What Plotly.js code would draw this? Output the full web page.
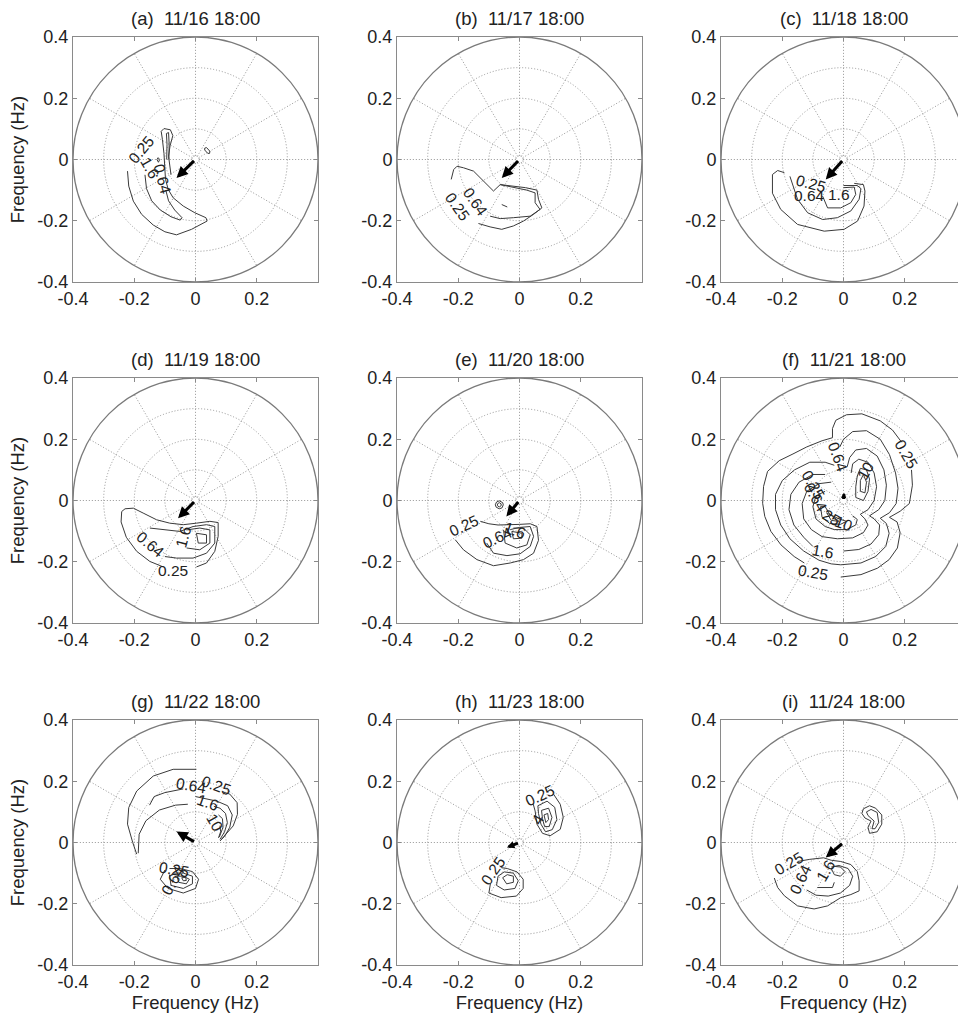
<!DOCTYPE html>
<html><head><meta charset="utf-8">
<script src="https://cdn.plot.ly/plotly-3.0.1.min.js"></script>
<style>html,body{margin:0;padding:0;overflow:hidden;background:#fff}</style>
</head><body><div id="chart"></div>
<script>
// ---------- data ----------
const panelTitles = ["(a)\u00a0 11/16 18:00","(b)\u00a0 11/17 18:00","(c)\u00a0 11/18 18:00",
                     "(d)\u00a0 11/19 18:00","(e)\u00a0 11/20 18:00","(f)\u00a0 11/21 18:00",
                     "(g)\u00a0 11/22 18:00","(h)\u00a0 11/23 18:00","(i)\u00a0 11/24 18:00"];
const xTickVals = [-0.4,-0.2,0,0.2];
const xTickText = ["-0.4","-0.2","0","0.2"];
const yTickVals = [-0.4,-0.2,0,0.2,0.4];
const yTickText = ["-0.4","-0.2","0","0.2","0.4"];
const gridRadii = [0.012,0.1,0.2,0.3];
const outerRadius = 0.4;
const spokeAngles = [0,30,60,90,120,150,180,210,240,270,300,330];
// arrow tips (Hz), tail at the origin
const arrowTipX = [-0.062,-0.058,-0.058,-0.057,-0.043,0.002,-0.062,-0.041,-0.058];
const arrowTipY = [-0.060,-0.060,-0.065,-0.058,-0.052,0.025,0.036,-0.016,-0.049];

// contour lines: [level, [[fx,fy],...]]
const contourA = [
 [0.25,[[-0.222,-0.038],[-0.218,-0.087],[-0.203,-0.136],[-0.176,-0.179],[-0.138,-0.214],[-0.100,-0.236],[-0.062,-0.246],[-0.013,-0.228],[0.038,-0.201],[0.034,-0.190],[-0.002,-0.174],[-0.040,-0.152],[-0.073,-0.125],[-0.089,-0.098],[-0.098,-0.065],[-0.100,-0.030],[-0.103,0.020],[-0.108,0.065],[-0.112,0.092],[-0.103,0.101],[-0.082,0.097],[-0.074,0.078],[-0.083,0.045],[-0.088,0.011],[-0.085,-0.020],[-0.080,-0.050]]],
 [0.64,[[-0.165,-0.050],[-0.160,-0.095],[-0.143,-0.135],[-0.115,-0.165],[-0.080,-0.187],[-0.050,-0.198],[-0.044,-0.190],[-0.068,-0.165],[-0.088,-0.135],[-0.097,-0.100]]],
 [0.64,[[-0.094,0.000],[-0.093,0.050],[-0.095,0.085],[-0.088,0.088],[-0.086,0.050],[-0.087,0.000]]],
 [1.6,[[-0.122,0.006],[-0.117,0.000],[-0.121,-0.009],[-0.126,0.000],[-0.122,0.006]]],
 [0.25,[[0.030,0.037],[0.036,0.039],[0.047,0.027],[0.046,0.020],[0.040,0.020],[0.030,0.031],[0.030,0.037]]]
];
const contourB = [
 [0.25,[[-0.223,-0.065],[-0.215,-0.033],[-0.204,-0.022],[-0.183,-0.027],[-0.150,-0.038],[-0.117,-0.071],[-0.085,-0.103],[-0.063,-0.082],[-0.020,-0.088],[0.020,-0.092],[0.057,-0.100],[0.062,-0.130],[0.073,-0.158],[0.046,-0.179],[0.013,-0.201],[-0.020,-0.217],[-0.058,-0.228],[-0.096,-0.220],[-0.134,-0.209]]],
 [0.64,[[-0.063,-0.082],[-0.020,-0.092],[0.024,-0.100],[0.051,-0.109],[0.051,-0.141],[0.067,-0.163],[0.035,-0.185],[-0.020,-0.190],[-0.063,-0.193],[-0.096,-0.185]]],
 [1.6,[[-0.058,-0.147],[-0.040,-0.155]]]
];
const contourC = [
 [0.25,[[-0.193,-0.043],[-0.215,-0.036],[-0.232,-0.049],[-0.232,-0.110],[-0.205,-0.163],[-0.150,-0.212],[-0.063,-0.234],[0.002,-0.228],[0.046,-0.201],[0.067,-0.152],[0.070,-0.103],[0.065,-0.082],[0.035,-0.078]]],
 [0.64,[[-0.175,-0.055],[-0.165,-0.087],[-0.150,-0.130],[-0.117,-0.174],[-0.068,-0.196],[-0.020,-0.190],[0.024,-0.168],[0.051,-0.130],[0.057,-0.095],[0.045,-0.085],[0.000,-0.085]]],
 [1.6,[[-0.068,-0.120],[-0.052,-0.158],[-0.009,-0.158],[0.024,-0.141],[0.040,-0.114],[0.035,-0.090],[0.000,-0.092]]]
];
const contourD = [
 [0.25,[[-0.105,-0.217],[-0.149,-0.199],[-0.192,-0.166],[-0.226,-0.120],[-0.243,-0.070],[-0.241,-0.036],[-0.230,-0.027],[-0.203,-0.025],[-0.171,-0.041],[-0.127,-0.063],[-0.084,-0.074],[-0.040,-0.079],[0.003,-0.074],[0.047,-0.068],[0.074,-0.072],[0.074,-0.117],[0.063,-0.166],[0.036,-0.204],[0.003,-0.217]]],
 [0.64,[[-0.149,-0.090],[-0.095,-0.096],[-0.051,-0.101],[-0.008,-0.085],[0.036,-0.079],[0.063,-0.085],[0.063,-0.139],[0.036,-0.172],[-0.008,-0.188],[-0.062,-0.188],[-0.100,-0.183]]],
 [1.6,[[-0.029,-0.096],[0.014,-0.090],[0.047,-0.096],[0.047,-0.139],[0.014,-0.161],[-0.029,-0.155]]],
 [4,[[0.003,-0.107],[0.036,-0.112],[0.036,-0.139],[0.009,-0.139],[0.003,-0.107]]]
];
const contourE = [
 [0.25,[[-0.128,-0.068],[-0.100,-0.076],[-0.070,-0.080],[-0.035,-0.080],[0.000,-0.078],[0.035,-0.076],[0.057,-0.085],[0.062,-0.130],[0.046,-0.172],[0.013,-0.193],[-0.030,-0.204],[-0.085,-0.213],[-0.139,-0.193],[-0.183,-0.161],[-0.210,-0.128]]],
 [0.64,[[-0.107,-0.139],[-0.085,-0.172],[-0.041,-0.180],[0.002,-0.174],[0.035,-0.150],[0.046,-0.117],[0.035,-0.085],[0.000,-0.088],[-0.030,-0.095]]],
 [1.6,[[-0.052,-0.096],[-0.047,-0.139],[-0.009,-0.155],[0.024,-0.145],[0.035,-0.112],[0.013,-0.090],[-0.020,-0.090]]],
 [4,[[-0.025,-0.101],[0.008,-0.107],[0.008,-0.123],[-0.020,-0.125],[-0.025,-0.101]]],
 [0.25,[[-0.066,-0.001],[-0.055,-0.007],[-0.053,-0.014],[-0.057,-0.024],[-0.066,-0.027],[-0.076,-0.022],[-0.079,-0.014],[-0.075,-0.005],[-0.066,-0.001]]],
 [0.64,[[-0.066,-0.007],[-0.060,-0.011],[-0.060,-0.017],[-0.066,-0.021],[-0.072,-0.017],[-0.072,-0.011],[-0.066,-0.007]]]
];
const contourF = [
 [0.25,[[-0.009,-0.250],[0.057,-0.242],[0.111,-0.221],[0.149,-0.193],[0.176,-0.155],[0.185,-0.105],[0.175,-0.070],[0.150,-0.055],[0.185,-0.035],[0.215,-0.010],[0.225,0.050],[0.222,0.100]]],
 [0.25,[[0.190,0.190],[0.160,0.230],[0.120,0.260],[0.060,0.283],[0.010,0.280],[-0.025,0.262],[-0.036,0.235],[-0.036,0.205],[-0.070,0.195],[-0.120,0.175],[-0.165,0.152],[-0.210,0.130],[-0.248,0.095],[-0.261,0.046],[-0.264,-0.009],[-0.257,-0.052],[-0.237,-0.101],[-0.204,-0.145],[-0.161,-0.183],[-0.128,-0.204]]],
 [0.64,[[-0.009,-0.210],[0.057,-0.204],[0.105,-0.183],[0.138,-0.150],[0.149,-0.107],[0.140,-0.075],[0.120,-0.058],[0.150,-0.040],[0.172,-0.010],[0.178,0.040],[0.170,0.090],[0.150,0.150],[0.120,0.200],[0.075,0.228],[0.030,0.225],[0.000,0.200],[-0.012,0.175]]],
 [0.64,[[-0.030,0.115],[-0.060,0.125],[-0.110,0.125],[-0.160,0.100],[-0.200,0.065],[-0.222,0.020],[-0.222,-0.030],[-0.205,-0.080],[-0.175,-0.125],[-0.130,-0.165],[-0.080,-0.195],[-0.040,-0.207],[-0.009,-0.210]]],
 [1.6,[[0.000,-0.165],[0.050,-0.160],[0.090,-0.142],[0.115,-0.112],[0.118,-0.080],[0.100,-0.060],[0.085,-0.050],[0.115,-0.030],[0.135,0.000],[0.140,0.050],[0.132,0.100],[0.110,0.145],[0.075,0.170],[0.040,0.165],[0.020,0.140],[0.012,0.110]]],
 [1.6,[[-0.060,0.085],[-0.100,0.085],[-0.145,0.060],[-0.172,0.020],[-0.178,-0.030],[-0.162,-0.080],[-0.130,-0.120],[-0.100,-0.150]]],
 [4,[[-0.020,-0.125],[0.030,-0.122],[0.065,-0.105],[0.080,-0.080],[0.070,-0.060],[0.055,-0.045],[0.080,-0.030],[0.100,0.000],[0.108,0.045],[0.100,0.090],[0.080,0.125],[0.050,0.135],[0.030,0.120],[0.025,0.090]]],
 [4,[[-0.040,0.060],[-0.080,0.055],[-0.120,0.030],[-0.135,-0.010],[-0.130,-0.060],[-0.105,-0.095],[-0.070,-0.118],[-0.020,-0.125]]],
 [10,[[-0.060,0.030],[-0.090,0.015],[-0.100,-0.020],[-0.090,-0.060],[-0.060,-0.085],[-0.030,-0.095],[0.010,-0.095],[0.040,-0.080],[0.045,-0.062],[0.030,-0.050]]],
 [10,[[0.040,0.010],[0.065,0.000],[0.080,0.030],[0.085,0.070],[0.075,0.100],[0.055,0.105],[0.045,0.080],[0.040,0.045],[0.040,0.010]]],
 [25,[[-0.075,-0.020],[-0.070,-0.055],[-0.045,-0.075],[-0.010,-0.078],[0.010,-0.068],[-0.015,-0.060],[-0.045,-0.045],[-0.060,-0.020],[-0.075,-0.020]]],
 [25,[[0.055,0.030],[0.070,0.025],[0.075,0.060],[0.065,0.085],[0.055,0.065],[0.055,0.030]]],
 [64,[[-0.055,-0.040],[-0.040,-0.065],[-0.015,-0.068],[-0.030,-0.055],[-0.055,-0.040]]]
];
const contourG = [
 [0.25,[[-0.192,-0.038],[-0.205,0.000],[-0.222,0.060],[-0.218,0.114],[-0.192,0.168],[-0.138,0.217],[-0.073,0.239],[0.003,0.239]]],
 [0.25,[[-0.187,-0.035],[-0.184,0.027],[-0.162,0.071],[-0.118,0.106],[-0.065,0.122],[-0.025,0.125]]],
 [0.64,[[-0.150,0.122],[-0.135,0.150],[-0.100,0.163],[-0.060,0.170],[-0.040,0.175]]],
 [0.25,[[0.090,0.165],[0.112,0.158],[0.136,0.130],[0.137,0.092],[0.123,0.054],[0.101,0.027],[0.085,0.011]]],
 [0.64,[[0.000,0.150],[0.040,0.140],[0.070,0.135],[0.105,0.120],[0.120,0.090],[0.112,0.050],[0.095,0.020],[0.080,0.005]]],
 [1.6,[[0.060,0.118],[0.080,0.112],[0.098,0.095],[0.104,0.065],[0.095,0.035],[0.080,0.010]]],
 [4,[[0.075,0.090],[0.088,0.078],[0.090,0.050],[0.078,0.018]]],
 [10,[[0.080,0.055],[0.082,0.035],[0.075,0.015]]],
 [0.25,[[-0.100,-0.090],[-0.115,-0.120],[-0.090,-0.150],[-0.040,-0.165],[0.000,-0.150],[0.010,-0.120],[-0.010,-0.095],[-0.050,-0.085],[-0.085,-0.085]]],
 [0.64,[[-0.085,-0.105],[-0.080,-0.140],[-0.040,-0.150],[-0.010,-0.135],[-0.010,-0.110],[-0.040,-0.100],[-0.070,-0.100]]],
 [1.6,[[-0.060,-0.110],[-0.055,-0.130],[-0.030,-0.135],[-0.020,-0.120],[-0.040,-0.110],[-0.060,-0.110]]],
 [4,[[-0.045,-0.115],[-0.040,-0.125],[-0.030,-0.124],[-0.032,-0.114],[-0.045,-0.115]]]
];
const contourH = [
 [0.25,[[0.111,0.158],[0.133,0.125],[0.143,0.082],[0.133,0.043],[0.100,0.022],[0.075,0.030],[0.057,0.060],[0.051,0.103],[0.045,0.125]]],
 [0.64,[[0.060,0.120],[0.090,0.135],[0.115,0.115],[0.122,0.075],[0.107,0.042],[0.085,0.035],[0.070,0.060],[0.062,0.095],[0.060,0.120]]],
 [1.6,[[0.072,0.105],[0.095,0.112],[0.106,0.082],[0.097,0.052],[0.082,0.052],[0.075,0.078],[0.072,0.105]]],
 [4,[[0.080,0.090],[0.092,0.095],[0.095,0.075],[0.086,0.065],[0.080,0.090]]],
 [0.25,[[-0.095,-0.135],[-0.100,-0.165],[-0.060,-0.180],[-0.010,-0.175],[0.012,-0.150],[0.012,-0.120],[-0.008,-0.096],[-0.040,-0.085],[-0.060,-0.082]]],
 [0.64,[[-0.070,-0.110],[-0.075,-0.140],[-0.050,-0.155],[-0.015,-0.150],[-0.004,-0.125],[-0.020,-0.100],[-0.050,-0.096],[-0.070,-0.110]]],
 [1.6,[[-0.055,-0.115],[-0.042,-0.135],[-0.020,-0.130],[-0.020,-0.110],[-0.040,-0.105],[-0.055,-0.115]]]
];
const contourI = [
 [0.25,[[0.065,0.110],[0.085,0.120],[0.105,0.112],[0.125,0.090],[0.125,0.060],[0.110,0.035],[0.085,0.030],[0.080,0.050],[0.090,0.070],[0.070,0.080],[0.060,0.095],[0.065,0.110]]],
 [0.64,[[0.075,0.100],[0.090,0.108],[0.110,0.098],[0.115,0.065],[0.103,0.045],[0.093,0.045],[0.100,0.070],[0.080,0.088],[0.075,0.100]]],
 [0.25,[[-0.150,-0.062],[-0.110,-0.055],[-0.065,-0.050],[-0.040,-0.058],[-0.009,-0.062],[0.024,-0.072],[0.045,-0.095],[0.051,-0.125],[0.051,-0.158],[0.024,-0.170],[-0.009,-0.180],[-0.052,-0.207],[-0.096,-0.217],[-0.150,-0.207],[-0.193,-0.174],[-0.215,-0.147],[-0.226,-0.116]]],
 [0.64,[[-0.120,-0.155],[-0.090,-0.172],[-0.050,-0.175],[-0.010,-0.165],[0.020,-0.140],[0.030,-0.110],[0.015,-0.085],[-0.015,-0.075],[-0.040,-0.080]]],
 [1.6,[[-0.085,-0.147],[-0.036,-0.147],[-0.030,-0.130]]],
 [4,[[-0.040,-0.085],[-0.030,-0.105],[-0.010,-0.110],[0.005,-0.095],[-0.010,-0.080],[-0.030,-0.078],[-0.040,-0.085]]]
];
const allContours = [contourA,contourB,contourC,contourD,contourE,contourF,contourG,contourH,contourI];

// contour labels: [text, fx, fy, angle]
const labelsA = [["0.25",-0.177,0.033,-50],["1.6",-0.150,-0.027,60],["0.64",-0.107,-0.065,75]];
const labelsB = [["0.64",-0.145,-0.138,55],["0.25",-0.202,-0.152,55]];
const labelsC = [["0.25",-0.107,-0.078,15],["0.64",-0.110,-0.117,0],["1.6",-0.014,-0.114,0]];
const labelsD = [["0.64",-0.147,-0.145,40],["0.25",-0.073,-0.228,0],["1.6",-0.040,-0.117,-75]];
const labelsE = [["0.25",-0.180,-0.083,-25],["0.64",-0.072,-0.120,-25],["1.6",-0.014,-0.098,20]];
const labelsF = [["0.25",0.203,0.152,60],["0.64",-0.018,0.140,70],["10",0.073,0.097,-60],["0.25",-0.100,0.051,60],["0.64",-0.091,0.009,60],["25",-0.040,-0.055,30],["10",0.000,-0.075,20],["1.6",-0.068,-0.168,10],["0.25",-0.100,-0.236,10]];
const labelsG = [["0.64",-0.013,0.185,10],["0.25",0.068,0.185,20],["1.6",0.041,0.130,20],["10",0.063,0.065,60],["0.25",-0.071,-0.087,10],["0.64",-0.073,-0.125,-60]];
const labelsH = [["0.25",0.067,0.152,-25],["4",0.059,0.076,-60],["0.25",-0.085,-0.092,-55]];
const labelsI = [["0.25",-0.178,-0.070,-30],["0.64",-0.141,-0.120,-65],["1.6",-0.058,-0.092,-60]];
const allLabels = [labelsA,labelsB,labelsC,labelsD,labelsE,labelsF,labelsG,labelsH,labelsI];

// ---------- layout / drawing ----------
const W = 966, H = 1017;
const colLeft = [73, 397, 721], rowTop = [37, 378, 720], PW = 245, PH = 245;
const FONT = '"Liberation Sans", Arial, sans-serif';
const traces = [], shapes = [], annotations = [];
const layout = {
  width: W, height: H, margin: {l:0, r:0, t:0, b:0},
  paper_bgcolor: '#fff', plot_bgcolor: '#fff', showlegend: false,
  font: {family: FONT, size: 18, color: '#222'}
};
const GRID_LINE = {color:'#959595', width:1, dash:'1px,2px'};
for (let i = 0; i < 9; i++) {
  const r = Math.floor(i/3), c = i % 3;
  const sfx = i ? String(i+1) : '';
  const xa = 'x'+sfx, ya = 'y'+sfx;
  const x0 = colLeft[c]/W, x1 = (colLeft[c]+PW)/W;
  const y1 = 1 - rowTop[r]/H, y0 = 1 - (rowTop[r]+PH)/H;
  const common = {range:[-0.4,0.4], showgrid:false, zeroline:false, showline:true, mirror:'ticks',
    linecolor:'#8a8a8a', linewidth:1, ticks:'inside', ticklen:4, tickcolor:'#8a8a8a',
    tickfont:{family:FONT,size:18,color:'#222'}, fixedrange:true};
  layout['xaxis'+sfx] = Object.assign({}, common, {domain:[x0,x1], anchor:ya,
    tickvals:xTickVals, ticktext:xTickText,
    title: r===2 ? {text:'Frequency (Hz)', font:{family:FONT,size:18.5,color:'#222'}, standoff:3} : {text:''}});
  layout['yaxis'+sfx] = Object.assign({}, common, {domain:[y0,y1], anchor:xa,
    tickvals:yTickVals, ticktext:yTickText,
    title: c===0 ? {text:'Frequency (Hz)', font:{family:FONT,size:18.5,color:'#222'}, standoff:7} : {text:''}});
  // polar grid
  gridRadii.forEach(rad => shapes.push({type:'circle', xref:xa, yref:ya, x0:-rad, y0:-rad, x1:rad, y1:rad,
    line:GRID_LINE, layer:'below'}));
  spokeAngles.forEach(a => {
    const t = a*Math.PI/180;
    shapes.push({type:'line', xref:xa, yref:ya,
      x0:gridRadii[0]*Math.cos(t), y0:gridRadii[0]*Math.sin(t),
      x1:outerRadius*Math.cos(t), y1:outerRadius*Math.sin(t),
      line:GRID_LINE, layer:'below'});
  });
  shapes.push({type:'circle', xref:xa, yref:ya, x0:-outerRadius, y0:-outerRadius, x1:outerRadius, y1:outerRadius,
    line:{color:'#7a7a7a', width:1.3}, layer:'below'});
  // contours
  allContours[i].forEach(([lev, pts]) => {
    traces.push({type:'scatter', mode:'lines', xaxis:xa, yaxis:ya,
      x: pts.map(p=>p[0]), y: pts.map(p=>p[1]), name: String(lev),
      line:{color:'#3a3a3a', width:1}, hoverinfo:'skip', showlegend:false});
  });
  // contour labels
  allLabels[i].forEach(([txt, fx, fy, ang]) => annotations.push({xref:xa, yref:ya, x:fx, y:fy,
    text:txt, showarrow:false, textangle:ang, font:{family:FONT, size:15.5, color:'#222'}}));
  // arrow (short arrows get a smaller head so the shaft stays visible)
  const len = Math.hypot(arrowTipX[i], arrowTipY[i]);
  const headSize = len < 0.03 ? 0.35 : (len < 0.05 ? 0.5 : 0.75);
  annotations.push({xref:xa, yref:ya, x:arrowTipX[i], y:arrowTipY[i], axref:xa, ayref:ya, ax:0, ay:0,
    text:'', showarrow:true, arrowhead:2, arrowsize:headSize, arrowwidth:3, arrowcolor:'#000', standoff:0, startstandoff:0});
  // panel title
  annotations.push({xref:'paper', yref:'paper', x:(x0+x1)/2, y:y1, xanchor:'center', yanchor:'bottom',
    yshift:6, text:panelTitles[i], showarrow:false, font:{family:FONT, size:18.5, color:'#222'}});
}
layout.shapes = shapes;
layout.annotations = annotations;
Plotly.newPlot('chart', traces, layout, {staticPlot:true, displayModeBar:false});
</script>
</body></html>
